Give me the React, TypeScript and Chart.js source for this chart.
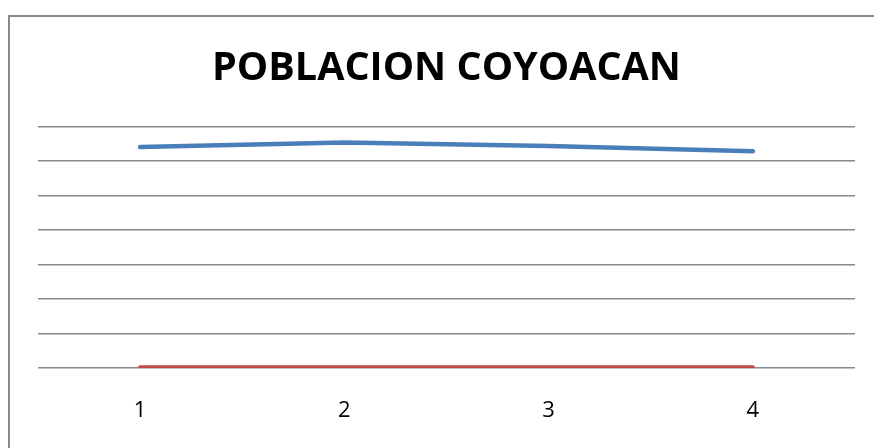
import React, { useEffect, useRef } from "react";
import { Chart, registerables } from "chart.js";

Chart.register(...registerables);

const categories = ["1", "2", "3", "4"];
const poblacion = [640066, 653489, 643000, 628063];
const anios = [1990, 1995, 2000, 2005];
const yMax = 700000;
const yStep = 100000;
const titleText = "POBLACION COYOACAN";

const framePlugin = {
  id: "frame",
  beforeDraw(chart: any) {
    const ctx = chart.ctx;
    ctx.save();
    ctx.strokeStyle = "#898989";
    ctx.lineWidth = 2;
    ctx.beginPath();
    ctx.moveTo(9, chart.height);
    ctx.lineTo(9, 16);
    ctx.lineTo(chart.width, 16);
    ctx.stroke();
    ctx.restore();
  },
};

export default function App() {
  const ref = useRef<HTMLCanvasElement | null>(null);

  useEffect(() => {
    if (!ref.current) return;
    const chart = new Chart(ref.current, {
      type: "line",
      data: {
        labels: categories,
        datasets: [
          {
            label: "Población",
            data: poblacion,
            borderColor: "#4A7EBB",
            backgroundColor: "#4A7EBB",
            borderWidth: 4.5,
            pointRadius: 0,
            tension: 0,
            borderCapStyle: "round",
          },
          {
            label: "Año",
            data: anios,
            borderColor: "#BE4B48",
            backgroundColor: "#BE4B48",
            borderWidth: 4,
            pointRadius: 0,
            tension: 0,
            borderCapStyle: "round",
          },
        ],
      },
      options: {
        responsive: false,
        animation: false,
        layout: { padding: { left: 38, right: 19, top: 0, bottom: 0 } },
        plugins: {
          legend: { display: false },
          tooltip: { enabled: false },
          title: {
            display: true,
            text: titleText,
            color: "#000",
            font: { family: "'Open Sans', sans-serif", size: 39.5, weight: "bold", lineHeight: 1.2 },
            padding: { top: 45, bottom: 34 },
          },
        },
        scales: {
          x: {
            offset: true,
            grid: { display: false, drawTicks: false },
            border: { display: false },
            ticks: {
              color: "#000",
              padding: 30,
              maxRotation: 0,
              font: { family: "'Open Sans', sans-serif", size: 22 },
            },
            afterFit: (scale: any) => {
              scale.height = 80;
            },
          },
          y: {
            min: 0,
            max: yMax,
            ticks: { display: false, stepSize: yStep },
            grid: { color: "#8a8a8a", lineWidth: 1.4, drawTicks: false },
            border: { display: false },
            afterFit: (scale: any) => {
              scale.width = 0;
            },
          },
        },
      },
      plugins: [framePlugin],
    });
    return () => chart.destroy();
  }, []);

  return (
    <div
      style={{
        position: "fixed",
        left: 0,
        top: 0,
        width: 874,
        height: 448,
        background: "#fff",
        overflow: "hidden",
      }}
    >
      <canvas ref={ref} width={874} height={448} style={{ display: "block" }} />
    </div>
  );
}
